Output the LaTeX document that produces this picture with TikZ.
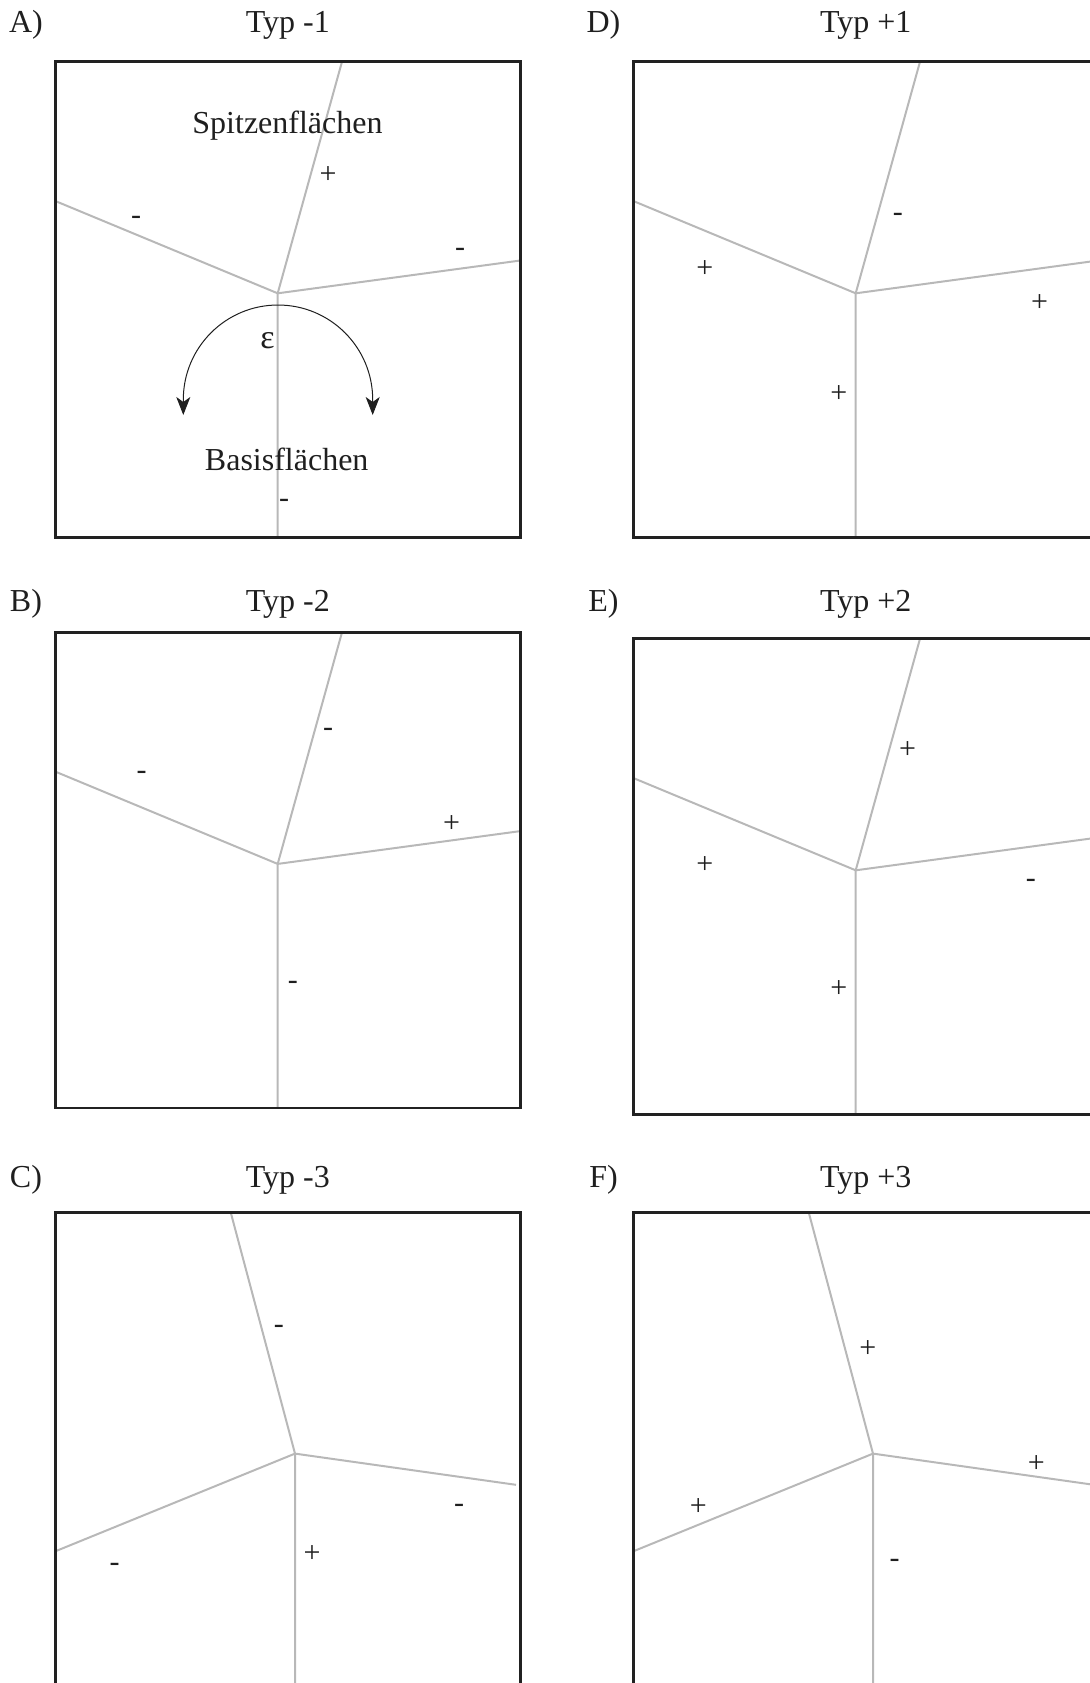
\documentclass[tikz,border=0pt]{standalone}
\usepackage{fontspec}
\setmainfont{Liberation Serif}
\usetikzlibrary{arrows.meta}

\definecolor{framegray}{gray}{0.13}
\definecolor{edgegray}{gray}{0.72}
\definecolor{inkgray}{gray}{0.12}

\begin{document}
\begin{tikzpicture}[
        x=0.5pt, y=-0.5pt,
        font=\fontsize{16}{19}\selectfont,
        % Styles
        panel/.style={draw=framegray, line width=1.4pt},
        edge/.style={draw=edgegray, line width=1pt},
        tag/.style={anchor=base, inner sep=0pt, text=inkgray},
        title/.style={anchor=base, inner sep=0pt, text=inkgray},
        face/.style={anchor=base, inner sep=0pt, text=inkgray},
        sgn/.style={inner sep=0pt, text height=0.5em, text depth=0pt, text=inkgray, font=\fontsize{15}{18}\selectfont},
        turn/.style={{Stealth[length=9pt, width=7pt, inset=2.5pt]}-{Stealth[length=9pt, width=7pt, inset=2.5pt]}, line width=0.5pt, draw=inkgray}
    ]

    \useasboundingbox (0,0) rectangle (1090,1683);
    \clip (0,0) rectangle (1090,1683);

    % Panel A (Typ -1)
    \coordinate (A-j) at (277.7,293.3);
    \coordinate (A-t) at (342,61.7);
    \coordinate (A-l) at (55.3,201);
    \coordinate (A-r) at (520.3,260.5);
    \coordinate (A-b) at (277.7,537.3);
    \draw[edge] (A-t) -- (A-j) -- (A-b);
    \draw[edge] (A-l) -- (A-j) -- (A-r);
    \draw[panel] (55.3,61.7) rectangle (520.3,537.3);

    \node[tag] (tagA) at (26,32.3) {A)};
    \node[title] (titleA) at (287.8,32.3) {Typ -1};
    \node[face] (tipA) at (287.5,133) {Spitzenflächen};
    \node[face] (baseA) at (286.7,470) {Basisflächen};
    \node[sgn] (sA1) at (328.2,178.1) {+};
    \node[sgn] (sA2) at (136.2,219.1) {-};
    \node[sgn] (sA3) at (460.2,251.2) {-};
    \node[sgn] (sA4) at (284,502.5) {-};
    \node[inner sep=0pt, text=inkgray, font=\fontsize{17}{20}\selectfont] (epsA) at (267.5,341) {ε};

    % turning arrow below the junction
    \coordinate (A-al) at (183.3,415);
    \coordinate (A-ar) at (372.7,415);
    \draw[turn] (A-al) -- ++(0,-15.3) arc[start angle=180, end angle=0, radius=47.35pt] -- (A-ar);

    % Panel D (Typ +1)
    \coordinate (D-j) at (855.7,293.3);
    \coordinate (D-t) at (920,61.7);
    \coordinate (D-l) at (633.3,201);
    \coordinate (D-r) at (1098.3,260.5);
    \coordinate (D-b) at (855.7,537.3);
    \draw[edge] (D-t) -- (D-j) -- (D-b);
    \draw[edge] (D-l) -- (D-j) -- (D-r);
    \draw[panel] (633.3,61.7) rectangle (1098.3,537.3);

    \node[tag] (tagD) at (603.5,32.3) {D)};
    \node[title] (titleD) at (865.8,32.3) {Typ +1};
    \node[sgn] (sD1) at (897.9,216.9) {-};
    \node[sgn] (sD2) at (704.8,272.5) {+};
    \node[sgn] (sD3) at (1039.5,306.9) {+};
    \node[sgn] (sD4) at (838.9,397) {+};

    % Panel B (Typ -2)
    \coordinate (B-j) at (277.7,863.9);
    \coordinate (B-t) at (342,632.3);
    \coordinate (B-l) at (55.3,771.6);
    \coordinate (B-r) at (520.3,831.1);
    \coordinate (B-b) at (277.7,1107.9);
    \draw[edge] (B-t) -- (B-j) -- (B-b);
    \draw[edge] (B-l) -- (B-j) -- (B-r);
    \draw[panel] (55.3,632.3) rectangle (520.3,1107.9);

    \node[tag] (tagB) at (26,611.7) {B)};
    \node[title] (titleB) at (287.8,611.7) {Typ -2};
    \node[sgn] (sB1) at (141.5,774.8) {-};
    \node[sgn] (sB2) at (328.2,731.9) {-};
    \node[sgn] (sB3) at (451.6,827.2) {+};
    \node[sgn] (sB4) at (292.8,984) {-};

    % Panel E (Typ +2)
    \coordinate (E-j) at (855.7,870.3);
    \coordinate (E-t) at (920,638.7);
    \coordinate (E-l) at (633.3,778);
    \coordinate (E-r) at (1098.3,837.5);
    \coordinate (E-b) at (855.7,1114.3);
    \draw[edge] (E-t) -- (E-j) -- (E-b);
    \draw[edge] (E-l) -- (E-j) -- (E-r);
    \draw[panel] (633.3,638.7) rectangle (1098.3,1114.3);

    \node[tag] (tagE) at (603.5,611.7) {E)};
    \node[title] (titleE) at (865.8,611.7) {Typ +2};
    \node[sgn] (sE1) at (907.5,753.2) {+};
    \node[sgn] (sE2) at (704.8,868) {+};
    \node[sgn] (sE3) at (1030.9,882.1) {-};
    \node[sgn] (sE4) at (838.9,992.4) {+};

    % Panel C (Typ -3)
    \coordinate (C-j) at (295,1453.6);
    \coordinate (C-t) at (230.7,1212.3);
    \coordinate (C-l) at (55.3,1551.3);
    \coordinate (C-r) at (516,1484.8);
    \coordinate (C-b) at (295,1732);
    \draw[edge] (C-t) -- (C-j) -- (C-b);
    \draw[edge] (C-l) -- (C-j) -- (C-r);
    \draw[panel] (55.3,1212.3) rectangle (520.3,1687.9);

    \node[tag] (tagC) at (26,1187) {C)};
    \node[title] (titleC) at (287.8,1187) {Typ -3};
    \node[sgn] (sC1) at (278.9,1328.3) {-};
    \node[sgn] (sC2) at (459.1,1507.5) {-};
    \node[sgn] (sC3) at (114.7,1566.5) {-};
    \node[sgn] (sC4) at (312.1,1557.8) {+};

    % Panel F (Typ +3)
    \coordinate (F-j) at (873,1453.6);
    \coordinate (F-t) at (808.7,1212.3);
    \coordinate (F-l) at (633.3,1551.3);
    \coordinate (F-r) at (1094,1484.8);
    \coordinate (F-b) at (873,1732);
    \draw[edge] (F-t) -- (F-j) -- (F-b);
    \draw[edge] (F-l) -- (F-j) -- (F-r);
    \draw[panel] (633.3,1212.3) rectangle (1098.3,1687.9);

    \node[tag] (tagF) at (603.5,1187) {F)};
    \node[title] (titleF) at (865.8,1187) {Typ +3};
    \node[sgn] (sF1) at (867.8,1352.9) {+};
    \node[sgn] (sF2) at (1036.3,1467.7) {+};
    \node[sgn] (sF3) at (698.3,1510.5) {+};
    \node[sgn] (sF4) at (894.6,1562.2) {-};

\end{tikzpicture}
\end{document}
